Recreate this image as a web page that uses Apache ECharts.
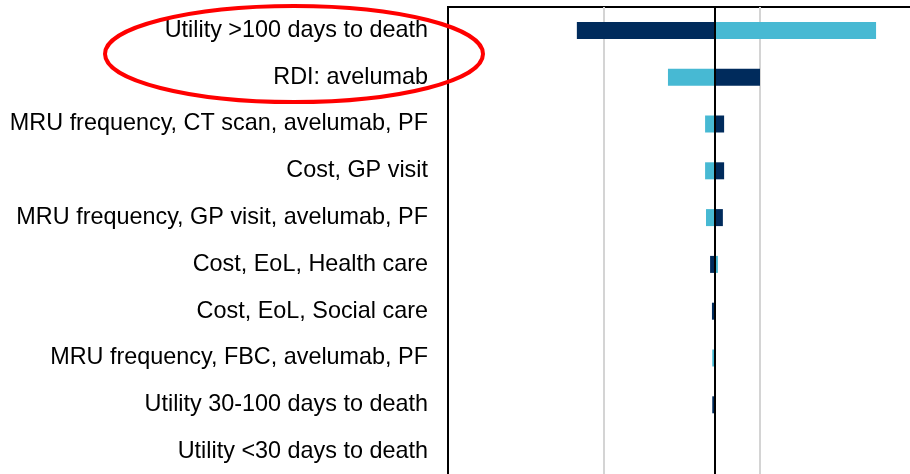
<!DOCTYPE html>
<html>
<head>
<meta charset="utf-8">
<script src="https://cdn.jsdelivr.net/npm/echarts@6/dist/echarts.min.js"></script>
<style>
  html, body { margin: 0; padding: 0; background: #fff; overflow: hidden; }
  /* the source picture is cropped on the right and bottom, so the chart is larger than the window */
  #chart-tornado { width: 940px; height: 490px; }
</style>
</head>
<body>
<div id="chart-tornado"></div>
<script>
// 参数名称（从上到下）
var params = [
    'Utility >100 days to death',
    'RDI: avelumab',
    'MRU frequency, CT scan, avelumab, PF',
    'Cost, GP visit',
    'MRU frequency, GP visit, avelumab, PF',
    'Cost, EoL, Health care',
    'Cost, EoL, Social care',
    'MRU frequency, FBC, avelumab, PF',
    'Utility 30-100 days to death',
    'Utility <30 days to death'
];

// base case result and the two bound results per parameter
var baseValue = 85600;
var darkResults  = [41300, 100000, 88500, 88500, 88100, 84000, 84600, 85600, 84700, 85600];
var lightResults = [137200, 70500, 82400, 82400, 82700, 86500, 85600, 84700, 85600, 85600];

// gridline step of the result axis
var axisStep = 50000;

var darkDelta = darkResults.map(function (v) { return v - baseValue; });
var lightDelta = lightResults.map(function (v) { return v - baseValue; });

var tornadoChart = echarts.init(document.getElementById('chart-tornado'));

var option = {
    animation: false,
    grid: {
        left: 448,
        top: 7,
        width: 468,
        height: 468,
        show: true,
        borderColor: '#000',
        borderWidth: 2,
        backgroundColor: 'transparent'
    },
    xAxis: {
        type: 'value',
        min: -baseValue,
        max: -baseValue + axisStep * 3,
        interval: axisStep,
        axisLine: {show: false},
        axisTick: {show: false},
        axisLabel: {show: false},
        splitLine: {
            show: true,
            // first line sits on the black border, keep it hidden
            lineStyle: {color: ['rgba(0,0,0,0)', '#d4d4d4', '#d4d4d4', '#d4d4d4'], width: 2}
        }
    },
    yAxis: {
        type: 'category',
        inverse: true,
        data: params,
        axisLine: {show: false},
        axisTick: {show: false},
        axisLabel: {
            margin: 20,
            fontSize: 23.4,
            color: '#000',
            padding: [6, 0, 0, 0],
            fontFamily: 'Liberation Sans, Arial, sans-serif'
        }
    },
    series: [
        {
            name: 'dark',
            type: 'bar',
            barWidth: 17,
            barGap: '-100%',
            itemStyle: {color: '#002b5c'},
            data: darkDelta
        },
        {
            name: 'light',
            type: 'bar',
            barWidth: 17,
            barGap: '-100%',
            itemStyle: {color: '#47b9d3'},
            data: lightDelta,
            markLine: {
                silent: true,
                symbol: 'none',
                label: {show: false},
                lineStyle: {color: '#000', type: 'solid', width: 2},
                data: [{xAxis: 0}]
            }
        }
    ],
    graphic: [{
        type: 'ellipse',
        z: 100,
        shape: {cx: 294, cy: 54, rx: 189, ry: 48},
        style: {fill: 'none', stroke: '#ff0000', lineWidth: 4}
    }]
};

tornadoChart.setOption(option);
</script>
</body>
</html>
